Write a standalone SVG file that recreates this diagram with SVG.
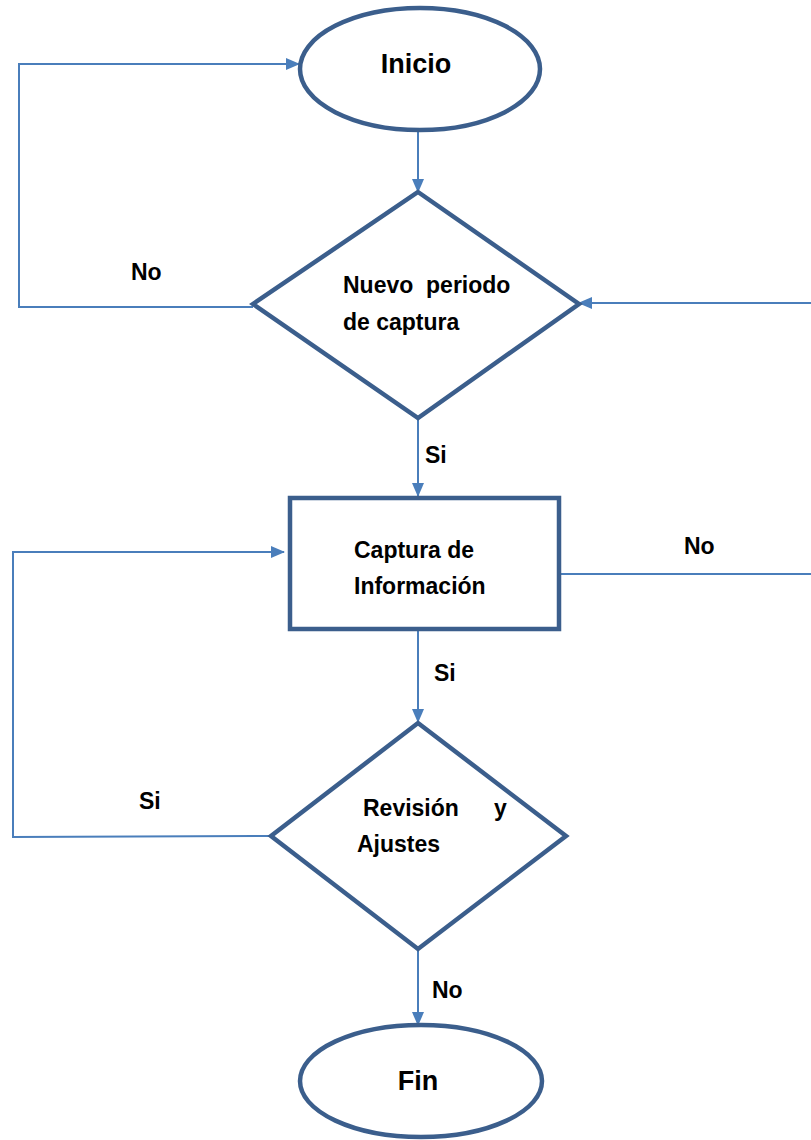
<svg xmlns="http://www.w3.org/2000/svg" width="811" height="1140" viewBox="0 0 811 1140">
<defs>
<marker id="ah" viewBox="0 0 14 12" refX="13" refY="6" markerWidth="14" markerHeight="12" markerUnits="userSpaceOnUse" orient="auto">
<path d="M0,0 L14,6 L0,12 Z" fill="#4A7EBB"/>
</marker>
<style>
.shape{fill:#fff;stroke:#3B5E8C;stroke-width:4.5}
.conn{fill:none;stroke:#4A7EBB;stroke-width:2}
.t{font-family:"Liberation Sans",Arial,sans-serif;font-weight:bold;font-size:23px;fill:#000}
.big{font-size:27px}
</style>
</defs>
<rect width="811" height="1140" fill="#fff"/>
<g id="connectors">
<polyline class="conn" points="253,307 19,307 19,64 299,64" marker-end="url(#ah)"/>
<line class="conn" x1="418" y1="130" x2="418" y2="192" marker-end="url(#ah)"/>
<line class="conn" x1="811" y1="303" x2="579" y2="303" marker-end="url(#ah)"/>
<line class="conn" x1="418" y1="418" x2="418" y2="496" marker-end="url(#ah)"/>
<line class="conn" x1="559" y1="574" x2="811" y2="574"/>
<line class="conn" x1="418" y1="629" x2="418" y2="722" marker-end="url(#ah)"/>
<polyline class="conn" points="271,836 13,837 13,552 284,552" marker-end="url(#ah)"/>
<line class="conn" x1="418" y1="949" x2="418" y2="1025" marker-end="url(#ah)"/>
<text class="t" x="131" y="280">No</text>
<text class="t" x="425" y="463">Si</text>
<text class="t" x="684" y="554">No</text>
<text class="t" x="434" y="681">Si</text>
<text class="t" x="139" y="809">Si</text>
<text class="t" x="432" y="998">No</text>
</g>
<g id="inicio">
<ellipse class="shape" cx="420" cy="69" rx="120" ry="61"/>
<text class="t big" x="416" y="73" text-anchor="middle">Inicio</text>
</g>
<g id="nuevo-periodo">
<polygon class="shape" points="418,192 579,304 418,418 253,304"/>
<text class="t" x="343" y="293" xml:space="preserve">Nuevo  periodo</text>
<text class="t" x="343" y="330">de captura</text>
</g>
<g id="captura">
<rect class="shape" x="290" y="498" width="269" height="131"/>
<text class="t" x="354" y="558">Captura de</text>
<text class="t" x="354" y="594">Información</text>
</g>
<g id="revision">
<polygon class="shape" points="418,723 566,836 418,949 271,836"/>
<text class="t" x="363" y="816">Revisión</text>
<text class="t" x="494" y="816">y</text>
<text class="t" x="357" y="852">Ajustes</text>
</g>
<g id="fin">
<ellipse class="shape" cx="421" cy="1081" rx="121" ry="56"/>
<text class="t big" x="418" y="1090" text-anchor="middle">Fin</text>
</g>
</svg>
